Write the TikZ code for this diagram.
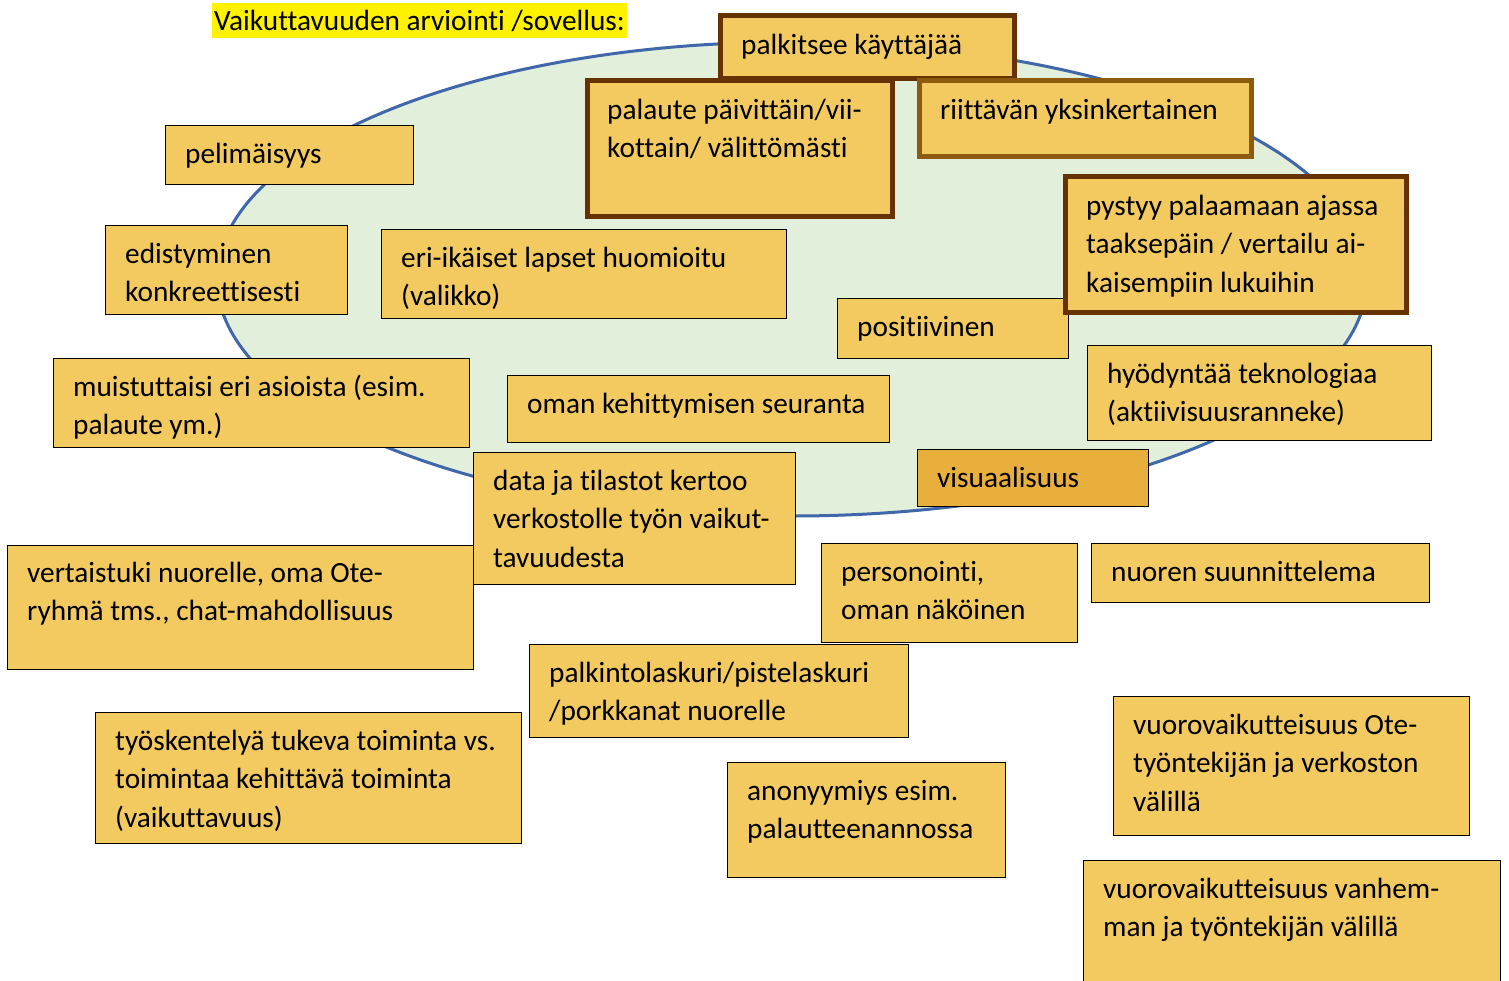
\documentclass[tikz,border=0pt]{standalone}
\usepackage{fontspec}
\setmainfont{Carlito}[Ligatures=NoCommon]
\usetikzlibrary{shapes.geometric}
\definecolor{cardfill}{HTML}{F2CA60}
\definecolor{cardfilldark}{HTML}{E9AF3D}
\definecolor{darkbrown}{HTML}{663300}
\definecolor{midbrown}{HTML}{8E5A0E}
\definecolor{ringline}{HTML}{4067AA}
\definecolor{ringfill}{HTML}{E2EFDA}
\tikzset{
  x=1pt, y=-1pt,
  ringstyle/.style={ellipse, draw=ringline, line width=3pt, fill=ringfill, inner sep=0},
  cardthin/.style={rectangle, draw=black, line width=1.4pt, fill=cardfill, inner sep=0},
  cardorange/.style={cardthin, fill=cardfilldark},
  cardthick/.style={rectangle, draw=darkbrown, line width=5pt, fill=cardfill, inner sep=0},
  cardgold/.style={rectangle, draw=midbrown, line width=5pt, fill=cardfill, inner sep=0},
  lbl/.style={inner sep=0, align=flush left, text=black,
    font=\fontsize{29.3}{38.5}\selectfont},
}
% #1 style, #2 name, #3 left, #4 top, #5 right, #6 bottom, #7 text offset, #8 text
\newcommand\card[8]{%
  \node[#1, anchor=north west, minimum width={#5-#3}, minimum height={#6-#4}]
    (#2) at (#3,#4) {};
  \node[lbl, anchor=base west, text width={#5-#3}]
    (#2-t) at ([#7]#2.north west) {#8};}
\begin{document}
\begin{tikzpicture}
\useasboundingbox (0,0) rectangle (1509,980);
\fill[white] (0,0) rectangle (1509,980);

% background field
\node[ringstyle, minimum width=1150, minimum height=474] (field) at (792,279) {};

% heading
\node[lbl, fill=yellow, anchor=north west, inner xsep=2pt, inner ysep=0pt,
  minimum height=35] (title) at (212,3) {Vaikuttavuuden arviointi /sovellus:};

% cards inside and around the field
\card{cardthin}{peli}{165}{125}{413}{184}{xshift=20pt,yshift=-38pt}{pelimäisyys}
\card{cardthin}{edist}{105}{225}{347}{314}{xshift=20pt,yshift=-38pt}{edistyminen\\konkreettisesti}
\card{cardthin}{ikaiset}{381}{229}{786}{318}{xshift=20pt,yshift=-38pt}{eri-ikäiset lapset huomioitu\\(valikko)}
\card{cardthin}{posit}{837}{298}{1068}{358}{xshift=20pt,yshift=-38pt}{positiivinen}
\card{cardthin}{muist}{53}{358}{469}{447}{xshift=20pt,yshift=-38pt}{muistuttaisi eri asioista (esim.\\palaute ym.)}
\card{cardthin}{seuranta}{507}{375}{889}{442}{xshift=20pt,yshift=-38pt}{oman kehittymisen seuranta}
\card{cardthin}{tekno}{1087}{345}{1431}{440}{xshift=20pt,yshift=-38pt}{hyödyntää teknologiaa\\(aktiivisuusranneke)}
\card{cardorange}{visual}{917}{449}{1148}{506}{xshift=20pt,yshift=-38pt}{visuaalisuus}
\card{cardthin}{data}{473}{452}{795}{584}{xshift=20pt,yshift=-38pt}{data ja tilastot kertoo\\verkostolle työn vaikut-\\tavuudesta}
\card{cardthin}{vertais}{7}{545}{473}{669}{xshift=20pt,yshift=-37pt}{vertaistuki nuorelle, oma Ote-\\ryhmä tms., chat-mahdollisuus}
\card{cardthin}{person}{821}{543}{1077}{642}{xshift=20pt,yshift=-38pt}{personointi,\\oman näköinen}
\card{cardthin}{suunn}{1091}{543}{1429}{602}{xshift=20pt,yshift=-38pt}{nuoren suunnittelema}
\card{cardthin}{palkinto}{529}{644}{908}{737}{xshift=20pt,yshift=-38pt}{palkintolaskuri/pistelaskuri\\/porkkanat nuorelle}
\card{cardthin}{tyosk}{95}{712}{521}{843}{xshift=20pt,yshift=-38pt}{työskentelyä tukeva toiminta vs.\\toimintaa kehittävä toiminta\\(vaikuttavuus)}
\card{cardthin}{anon}{727}{762}{1005}{877}{xshift=20pt,yshift=-38pt}{anonyymiys esim.\\palautteenannossa}
\card{cardthin}{vuoroote}{1113}{696}{1469}{835}{xshift=20pt,yshift=-38pt}{vuorovaikutteisuus Ote-\\työntekijän ja verkoston\\välillä}
\card{cardthin}{vuorovan}{1083}{860}{1500}{995}{xshift=20pt,yshift=-38pt}{vuorovaikutteisuus vanhem-\\man ja työntekijän välillä}

% emphasised cards
\card{cardthick}{palkitsee}{718}{13}{1012}{76}{xshift=23pt,yshift=-41pt}{palkitsee käyttäjää}
\card{cardthick}{palaute}{585}{78}{890}{214}{xshift=22pt,yshift=-41pt}{palaute päivittäin/vii-\\kottain/ välittömästi}
\card{cardgold}{riittava}{917}{78}{1249}{154}{xshift=23pt,yshift=-41pt}{riittävän yksinkertainen}
\card{cardthick}{pystyy}{1063}{174}{1404}{310}{xshift=23pt,yshift=-41pt}{pystyy palaamaan ajassa\\taaksepäin / vertailu ai-\\kaisempiin lukuihin}
\end{tikzpicture}
\end{document}
